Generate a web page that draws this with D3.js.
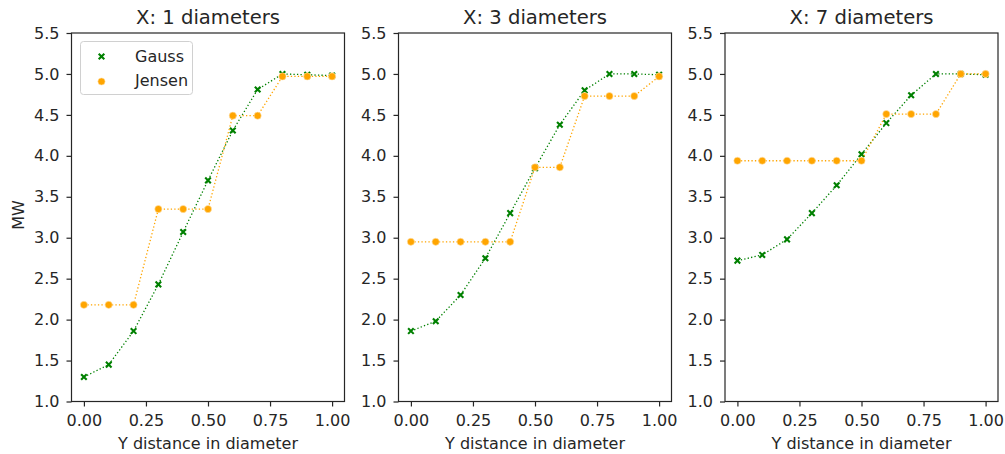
<!DOCTYPE html>
<html>
<head>
<meta charset="utf-8">
<script src="https://cdn.jsdelivr.net/npm/d3@7"></script>
<style>
  html, body { margin: 0; padding: 0; background: #fff; }
  svg { display: block; font-family: "DejaVu Sans", sans-serif; }
</style>
</head>
<body>
<svg id="chart" width="1005" height="454"></svg>
<script>
// Lateral offset positions (in rotor diameters)
const yDistance = [0.0, 0.1, 0.2, 0.3, 0.4, 0.5, 0.6, 0.7, 0.8, 0.9, 1.0];

// Panel titles: downstream distance
const panelTitles = ["X: 1 diameters", "X: 3 diameters", "X: 7 diameters"];

// Power (MW) predicted by the Gauss wake model, one array per panel
const gaussX1 = [1.30, 1.45, 1.86, 2.43, 3.07, 3.70, 4.31, 4.81, 5.00, 4.99, 4.98];
const gaussX3 = [1.86, 1.98, 2.30, 2.75, 3.30, 3.85, 4.38, 4.80, 5.00, 5.00, 4.99];
const gaussX7 = [2.72, 2.79, 2.98, 3.30, 3.64, 4.02, 4.40, 4.74, 5.00, 5.00, 4.99];

// Power (MW) predicted by the Jensen wake model, one array per panel
const jensenX1 = [2.18, 2.18, 2.18, 3.35, 3.35, 3.35, 4.49, 4.49, 4.97, 4.97, 4.97];
const jensenX3 = [2.95, 2.95, 2.95, 2.95, 2.95, 3.86, 3.86, 4.73, 4.73, 4.73, 4.97];
const jensenX7 = [3.94, 3.94, 3.94, 3.94, 3.94, 3.94, 4.51, 4.51, 4.51, 5.00, 5.00];

const gaussSeries = [gaussX1, gaussX3, gaussX7];
const jensenSeries = [jensenX1, jensenX3, jensenX7];

const xTicks = [0.00, 0.25, 0.50, 0.75, 1.00];
const yTicks = [1.0, 1.5, 2.0, 2.5, 3.0, 3.5, 4.0, 4.5, 5.0, 5.5];

const seriesNames = ["Gauss", "Jensen"];
const GREEN = "#008000";
const ORANGE = "#ffa500";
const INK = "#262626";
const FONT = 16;

const svg = d3.select("#chart");

const panelLeft = [71.5, 398.5, 725];
const panelW = 273;
const plotTop = 33, plotBottom = 401.5;

const x = d3.scaleLinear().domain([-0.05, 1.05]);
const y = d3.scaleLinear().domain([1.0, 5.5]).range([plotBottom, plotTop]);

const crossPath = "M-2.8,-2.8L2.8,2.8M-2.8,2.8L2.8,-2.8";

panelLeft.forEach((left, i) => {
  const xs = x.copy().range([left, left + panelW]);
  const g = svg.append("g");

  const line = d3.line().x((d, j) => xs(yDistance[j])).y(d => y(d));

  // Gauss model: dotted line + cross markers
  g.append("path")
    .datum(gaussSeries[i])
    .attr("d", line)
    .attr("fill", "none")
    .attr("stroke", GREEN)
    .attr("stroke-width", 1.3)
    .attr("stroke-dasharray", "1.3,2.2");
  g.selectAll(".gm")
    .data(gaussSeries[i])
    .join("path")
    .attr("transform", (d, j) => `translate(${xs(yDistance[j])},${y(d)})`)
    .attr("d", crossPath)
    .attr("fill", "none")
    .attr("stroke", GREEN)
    .attr("stroke-width", 2.1);

  // Jensen model: dotted line + circle markers
  g.append("path")
    .datum(jensenSeries[i])
    .attr("d", line)
    .attr("fill", "none")
    .attr("stroke", ORANGE)
    .attr("stroke-width", 1.3)
    .attr("stroke-dasharray", "1.3,2.2");
  g.selectAll(".jm")
    .data(jensenSeries[i])
    .join("circle")
    .attr("cx", (d, j) => xs(yDistance[j]))
    .attr("cy", d => y(d))
    .attr("r", 3.6)
    .attr("fill", ORANGE)
    .attr("stroke", "#ffe3b0")
    .attr("stroke-width", 0.6);

  // Axes
  const xAxis = d3.axisBottom(xs).tickValues(xTicks).tickFormat(d3.format(".2f")).tickSize(5).tickPadding(8);
  const yAxis = d3.axisLeft(y).tickValues(yTicks).tickFormat(d3.format(".1f")).tickSize(5).tickPadding(7);

  const gx = g.append("g").attr("transform", `translate(0,${plotBottom})`).call(xAxis);
  const gy = g.append("g").attr("transform", `translate(${left},0)`).call(yAxis);
  [gx, gy].forEach(a => {
    a.select(".domain").remove();
    a.selectAll("line").attr("stroke", INK).attr("stroke-width", 1.2);
    a.selectAll("text").attr("fill", INK).style("font-size", FONT + "px").style("font-family", "DejaVu Sans");
  });

  // Frame
  g.append("rect")
    .attr("x", left).attr("y", plotTop)
    .attr("width", panelW).attr("height", plotBottom - plotTop)
    .attr("fill", "none").attr("stroke", INK).attr("stroke-width", 1.2);

  // Title
  g.append("text")
    .attr("x", left + panelW / 2).attr("y", 23.5)
    .attr("text-anchor", "middle")
    .attr("fill", INK)
    .style("font-size", "19.6px")
    .text(panelTitles[i]);

  // X label
  g.append("text")
    .attr("x", left + panelW / 2).attr("y", 449)
    .attr("text-anchor", "middle")
    .attr("fill", INK)
    .style("font-size", FONT + "px")
    .text("Y distance in diameter");
});

// Y label
svg.append("text")
  .attr("transform", `translate(23.5,215) rotate(-90)`)
  .attr("text-anchor", "middle")
  .attr("fill", INK)
  .style("font-size", FONT + "px")
  .text("MW");

// Legend in the first panel
const lg = svg.append("g");
lg.append("rect")
  .attr("x", 80.5).attr("y", 41.5).attr("width", 112).attr("height", 53).attr("rx", 3)
  .attr("fill", "#fff").attr("fill-opacity", 0.8)
  .attr("stroke", "#d0d0d0").attr("stroke-width", 1);
lg.append("path")
  .attr("transform", "translate(101.5,56.5)")
  .attr("d", crossPath)
  .attr("fill", "none").attr("stroke", GREEN).attr("stroke-width", 2.1);
lg.append("circle")
  .attr("cx", 101.5).attr("cy", 81.5).attr("r", 3.6)
  .attr("fill", ORANGE).attr("stroke", "#ffe3b0").attr("stroke-width", 0.6);
seriesNames.forEach((name, k) => {
  lg.append("text")
    .attr("x", 135).attr("y", 61.5 + k * 24.5)
    .attr("fill", INK)
    .style("font-size", FONT + "px")
    .text(name);
});
</script>
</body>
</html>
